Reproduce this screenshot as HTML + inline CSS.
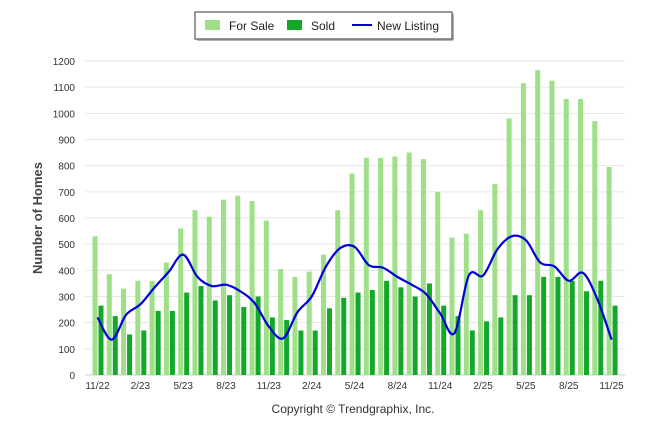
<!DOCTYPE html>
<html><head><meta charset="utf-8"><style>
html,body{margin:0;padding:0;background:#fff;width:646px;height:434px;overflow:hidden;font-family:"Liberation Sans",sans-serif}
</style></head><body>
<svg id="s" width="646" height="434" xmlns="http://www.w3.org/2000/svg" font-family="Liberation Sans, sans-serif">
<rect x="195" y="12" width="257" height="27" fill="#fff" stroke="#333" stroke-width="1"/>
<line x1="197" y1="40" x2="453" y2="40" stroke="#999" stroke-width="1.5"/>
<line x1="453" y1="14" x2="453" y2="40" stroke="#999" stroke-width="1.5"/>
<rect x="205" y="20" width="15" height="10" fill="#9edf88"/>
<text x="229" y="30" font-size="12" fill="#222">For Sale</text>
<rect x="287" y="20" width="15" height="10" fill="#13a829"/>
<text x="311" y="30" font-size="12" fill="#222">Sold</text>
<line x1="352" y1="25" x2="372" y2="25" stroke="#0000dd" stroke-width="2"/>
<text x="377" y="30" font-size="12" fill="#222">New Listing</text>
<text transform="translate(42,218) rotate(-90)" text-anchor="middle" font-size="13" font-weight="bold" fill="#444">Number of Homes</text>
<text x="353" y="413" text-anchor="middle" font-size="12" fill="#333">Copyright © Trendgraphix, Inc.</text>
<g id="g"></g>
</svg>
<script>
var g=document.getElementById('g'),ns='http://www.w3.org/2000/svg',h='';
function Y(v){return 375-v*314/1200}
for(var i=0;i<=12;i++){var y=Y(i*100);h+='<line x1="85" x2="625" y1="'+y+'" y2="'+y+'" stroke="'+(i?'#e6e6e6':'#ccc')+'" stroke-width="1"/>';h+='<text x="75" y="'+(y+4)+'" text-anchor="end" font-size="10" fill="#333">'+(i*100)+'</text>';}
var fs=[530,385,330,360,360,430,560,630,605,670,685,665,590,405,375,395,460,630,770,830,830,835,850,825,700,525,540,630,730,980,1115,1165,1125,1055,1055,970,795];
var sd=[265,225,155,170,245,245,315,340,285,305,260,300,220,210,170,170,255,295,315,325,360,335,300,350,265,225,170,205,220,305,305,375,375,360,320,360,265];
var nl=[220,135,230,270,335,395,460,375,340,345,320,275,185,140,240,300,415,485,490,420,410,375,345,310,235,160,380,380,480,530,515,430,415,360,390,290,135];
function X(i){return 97.5+i*14.28}
for(var i=0;i<37;i++){var x=X(i);
h+='<rect x="'+(x-5)+'" y="'+Y(fs[i])+'" width="5" height="'+(375-Y(fs[i]))+'" fill="#9edf88"/>';
h+='<rect x="'+(x+1)+'" y="'+Y(sd[i])+'" width="5" height="'+(375-Y(sd[i]))+'" fill="#13a829"/>';}
var lb=['11/22','2/23','5/23','8/23','11/23','2/24','5/24','8/24','11/24','2/25','5/25','8/25','11/25'];
for(var k=0;k<13;k++){h+='<text x="'+X(k*3)+'" y="389" text-anchor="middle" font-size="10" fill="#333">'+lb[k]+'</text>';}
var p=[];for(var i=0;i<37;i++)p.push([X(i),Y(nl[i])]);
var d='M'+p[0][0]+','+p[0][1];
for(var i=0;i<36;i++){var p0=p[Math.max(0,i-1)],p1=p[i],p2=p[i+1],p3=p[Math.min(36,i+2)];
d+=' C'+(p1[0]+(p2[0]-p0[0])/6)+','+(p1[1]+(p2[1]-p0[1])/6)+' '+(p2[0]-(p3[0]-p1[0])/6)+','+(p2[1]-(p3[1]-p1[1])/6)+' '+p2[0]+','+p2[1];}
h+='<path d="'+d+'" fill="none" stroke="#0000dd" stroke-width="2.2"/>';
g.innerHTML=h;
</script>
</body></html>
